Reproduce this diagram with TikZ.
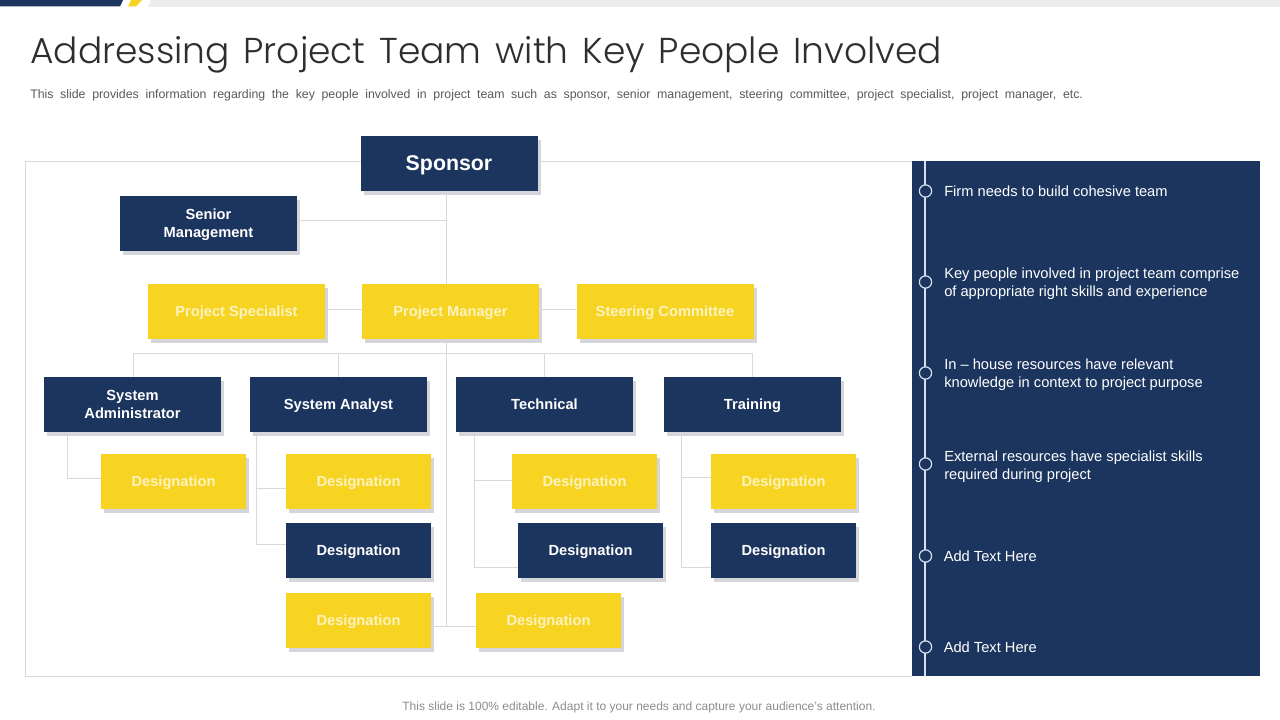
\documentclass[tikz,border=0pt]{standalone}
\usepackage{fontspec}
\setmainfont{Liberation Sans}
\newfontfamily\titlefont[UprightFont={* Light},WordSpace=1.4]{Poppins}
\usetikzlibrary{shadows,backgrounds}
\definecolor{navy}{HTML}{1C355E}
\definecolor{gold}{HTML}{F7D322}
\definecolor{goldtext}{HTML}{FDF3C0}
\definecolor{shade}{HTML}{D5D6DC}
\definecolor{wire}{HTML}{D9D9D9}
\definecolor{rail}{HTML}{D6DFEE}
\tikzset{
  x=0.75pt,y=-0.75pt,
  boxbase/.style={rectangle,inner sep=0pt,align=center,font=\fontsize{11}{13.7}\selectfont\bfseries,
    minimum height=41.25pt,text depth=0pt,
    copy shadow={shadow xshift=2.6pt,shadow yshift=-3.2pt,fill=shade,draw=none,opacity=1}},
  navybox/.style={boxbase,fill=navy,text=white},
  goldbox/.style={boxbase,fill=gold,text=goldtext},
  wide/.style={minimum width=132.75pt},
  narrow/.style={minimum width=108.75pt},
  conn/.style={draw=wire,line width=0.7pt},
  bullet/.style={circle,draw=rail,fill=navy,line width=0.9pt,minimum size=9.2pt,inner sep=0pt},
  pointtext/.style={anchor=west,align=left,text=white,inner sep=0pt,font=\fontsize{11}{13.7}\selectfont},
}
\begin{document}
\begin{tikzpicture}
\useasboundingbox (0,0) rectangle (1280,720);
% top strip
\fill[navy] (0,0) -- (123,0) -- (120,6.5) -- (0,6.5) -- cycle;
\fill[gold] (131,0) -- (142,0) -- (136,6.5) -- (128,6.5) -- cycle;
\fill[black!7] (151,0) -- (1280,0) -- (1280,7) -- (148,7) -- cycle;
% heading
\node[anchor=west,inner sep=0pt,text=black!82] (title) at (30,55) {\titlefont\fontsize{27}{32}\selectfont Addressing Project Team with Key People Involved};
\node[anchor=west,inner sep=0pt,text=black!65] (sub) at (30,95) {\fontsize{9.25}{11}\selectfont\spaceskip=5pt This slide provides information regarding the key people involved in project team such as sponsor, senior management, steering committee, project specialist, project manager, etc.};
\node[anchor=center,inner sep=0pt,text=black!45] (foot) at (639,707) {\fontsize{9}{11}\selectfont This slide is 100\% editable. Adapt it to your needs and capture your audience's attention.};
% frame and panel
\draw[wire,line width=0.7pt] (912,161) -- (25,161) -- (25,676.5) -- (912,676.5);
\fill[navy] (912,161) rectangle (1260,676);
\coordinate (railtop) at (925,161);
\coordinate (railend) at (925,676);
\draw[rail,line width=0.9pt] (railtop) -- (railend);
\foreach \n/\yy in {a/191,b/282,c/373,d/464,e/556,f/647}{
  \node[bullet] (dot\n) at (925.5,\yy) {};
}
\node[pointtext] (pa) at (944,191) {Firm needs to build cohesive team};
\node[pointtext] (pb) at (944,284) {Key people involved in project team comprise\\of appropriate right skills and experience};
\node[pointtext] (pc) at (944,375) {In -- house resources have relevant\\knowledge in context to project purpose};
\node[pointtext] (pd) at (944,467) {External resources have specialist skills\\required during project};
\node[pointtext] (pe) at (943.5,556) {Add Text Here};
\node[pointtext] (pf) at (943.5,647) {Add Text Here};
% boxes
\node[navybox,wide,font=\fontsize{16}{19}\selectfont\bfseries] (sponsor) at (449,163.5) {Sponsor};
\node[navybox,wide] (senior) at (208.5,223.5) {Senior\\Management};
\node[goldbox,wide] (spec) at (236.5,311.5) {Project Specialist};
\node[goldbox,wide] (pm) at (450.5,311.5) {Project Manager};
\node[goldbox,wide] (steer) at (665,311.5) {Steering Committee};
\node[navybox,wide] (admin) at (132.5,404.5) {System\\Administrator};
\node[navybox,wide] (analyst) at (338.5,404.5) {System Analyst};
\node[navybox,wide] (tech) at (544.5,404.5) {Technical};
\node[navybox,wide] (train) at (752.5,404.5) {Training};
\node[goldbox,narrow] (d1) at (173.5,481.5) {Designation};
\node[goldbox,narrow] (d2) at (358.5,481.5) {Designation};
\node[navybox,narrow] (d3) at (358.5,550.5) {Designation};
\node[goldbox,narrow] (d4) at (358.5,620.5) {Designation};
\node[goldbox,narrow] (d5) at (584.5,481.5) {Designation};
\node[navybox,narrow] (d6) at (590.5,550.5) {Designation};
\node[goldbox,narrow] (d7) at (548.5,620.5) {Designation};
\node[goldbox,narrow] (d8) at (783.5,481.5) {Designation};
\node[navybox,narrow] (d9) at (783.5,550.5) {Designation};
% junctions
\coordinate (trunk) at (446,353);
\coordinate (jsenior) at (446,220);
\coordinate (jbottom) at (446,626);
\coordinate (jspec) at (362,309);
\coordinate (jsteer) at (539,309);
\coordinate (jbus) at (133,353);
\coordinate (jbusb) at (752.5,353);
\coordinate (ja) at (67,478);
\coordinate (jb) at (256,488);
\coordinate (jbb) at (256,544);
\coordinate (jc) at (474.5,480);
\coordinate (jcc) at (474.5,567);
\coordinate (jd) at (681,477);
\coordinate (jdd) at (681,567);
\begin{scope}[on background layer]
\draw[conn] (sponsor.south -| trunk) -- (jbottom);
\draw[conn] (senior.east |- jsenior) -- (jsenior);
\draw[conn] (spec.east |- jspec) -- (jspec);
\draw[conn] (jsteer) -- (steer.west |- jsteer);
\draw[conn] (jbus) -- (jbusb);
\draw[conn] (jbus) -- (admin.north -| jbus);
\draw[conn] (analyst.north |- trunk) -- (analyst.north);
\draw[conn] (tech.north |- trunk) -- (tech.north);
\draw[conn] (jbusb) -- (train.north);
\draw[conn] (admin.south -| ja) -- (ja) -- (ja -| d1.west);
\draw[conn] (analyst.south -| jb) -- (jbb) -- (jbb -| d3.west);
\draw[conn] (jb) -- (jb -| d2.west);
\draw[conn] (tech.south -| jc) -- (jcc) -- (jcc -| d6.west);
\draw[conn] (jc) -- (jc -| d5.west);
\draw[conn] (train.south -| jd) -- (jdd) -- (jdd -| d9.west);
\draw[conn] (jd) -- (jd -| d8.west);
\draw[conn] (d4.east |- jbottom) -- (d7.west |- jbottom);
\end{scope}
\end{tikzpicture}
\end{document}
